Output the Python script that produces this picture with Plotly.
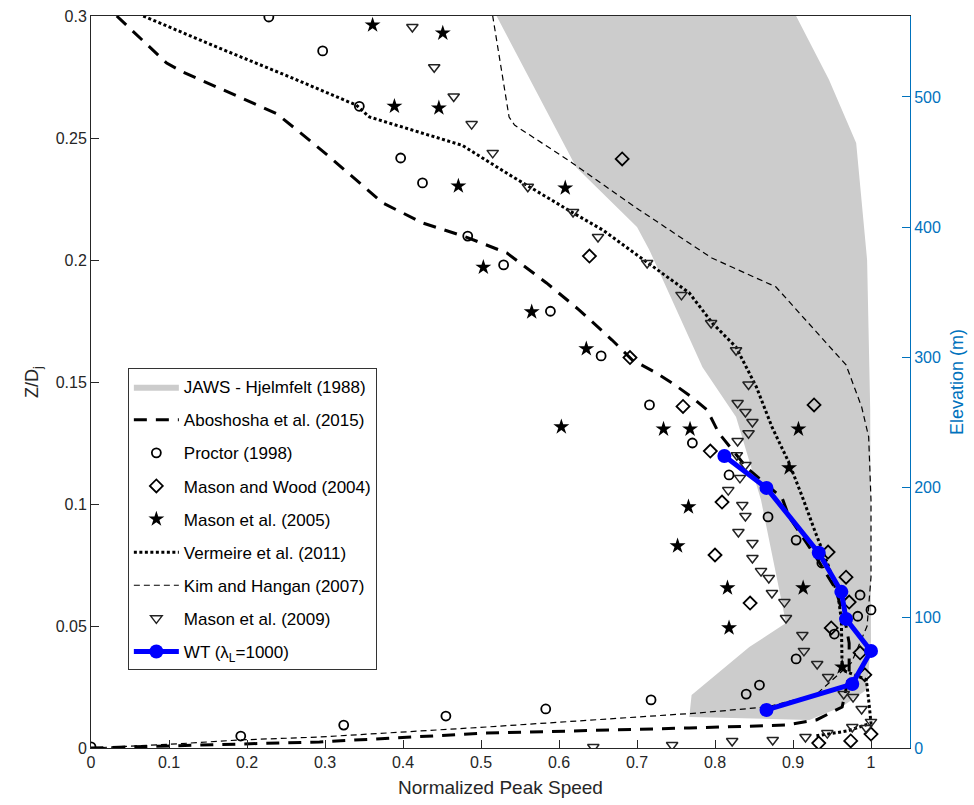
import plotly.graph_objects as go

# ---------------- data ----------------
jaws_x = [0.520, 0.622, 0.700, 0.716, 0.784, 0.827, 0.859, 0.882, 0.891, 0.844, 0.770, 0.767,
          0.921, 0.963, 0.995, 1.000, 0.999, 0.995, 0.981, 0.946, 0.904]
jaws_y = [0.300, 0.238, 0.2135, 0.204, 0.156, 0.1357, 0.1016, 0.0648, 0.0512, 0.0414, 0.0217, 0.0127,
          0.0115, 0.017, 0.024, 0.044, 0.1385, 0.200, 0.248, 0.274, 0.300]

abo_x = [0.033, 0.097, 0.118, 0.238, 0.264, 0.306, 0.374, 0.425, 0.481, 0.533, 0.584, 0.626, 0.668,
         0.694, 0.725, 0.745, 0.770, 0.790, 0.805, 0.841, 0.886, 0.895, 0.930, 0.955, 0.968, 0.972,
         0.972, 0.963, 0.930, 0.891, 0.767, 0.507, 0.293, 0.040, 0.0]
abo_y = [0.300, 0.2807, 0.277, 0.260, 0.2533, 0.2422, 0.2234, 0.2152, 0.2094, 0.2029, 0.1906, 0.1795, 0.1672,
         0.159, 0.1537, 0.1496, 0.1439, 0.1385, 0.129, 0.1148, 0.1025, 0.0947, 0.078, 0.065, 0.050, 0.043,
         0.030, 0.0168, 0.0115, 0.0094, 0.0082, 0.0061, 0.0025, 0.0002, 0.0]

proctor_x = [0.0, 0.192, 0.324, 0.455, 0.583, 0.718, 0.840, 0.857, 0.904, 0.953, 0.983, 1.0, 0.986, 0.937,
             0.904, 0.868, 0.818, 0.771, 0.716, 0.654, 0.589, 0.529, 0.483, 0.425, 0.397, 0.344, 0.297, 0.228]
proctor_y = [0.0005, 0.0049, 0.0094, 0.0131, 0.016, 0.0197, 0.0221, 0.0258, 0.0365, 0.0467, 0.054, 0.0566,
             0.0627, 0.0758, 0.0852, 0.0947, 0.1119, 0.125, 0.1406, 0.1607, 0.179, 0.198, 0.2098, 0.2316,
             0.2418, 0.263, 0.2857, 0.2996]

mw_x = [0.681, 0.639, 0.691, 0.759, 0.927, 0.794, 0.809, 0.800, 0.845, 0.945, 0.968, 0.972, 0.949, 0.986,
        0.992, 1.0, 0.974, 0.933]
mw_y = [0.2414, 0.2016, 0.160, 0.140, 0.1406, 0.1217, 0.1008, 0.0791, 0.0594, 0.0803, 0.070, 0.0598, 0.0492,
        0.039, 0.030, 0.0057, 0.0029, 0.002]

m05_x = [0.361, 0.451, 0.389, 0.446, 0.471, 0.608, 0.503, 0.565, 0.635, 0.603, 0.734, 0.768, 0.907, 0.895,
         0.766, 0.752, 0.816, 0.913, 0.818, 0.963]
m05_y = [0.2963, 0.293, 0.263, 0.2623, 0.2303, 0.2295, 0.197, 0.1787, 0.1636, 0.1316, 0.1307, 0.1307, 0.1307,
         0.1148, 0.0988, 0.0828, 0.0656, 0.0656, 0.0492, 0.0332]

verm_x = [0.067, 0.161, 0.255, 0.340, 0.357, 0.476, 0.536, 0.560, 0.618, 0.656, 0.713, 0.767, 0.797, 0.827,
          0.853, 0.873, 0.895, 0.912, 0.929, 0.945, 0.958, 0.962, 0.963, 0.994, 0.997, 1.0, 0.970, 0.930]
verm_y = [0.300, 0.2873, 0.275, 0.2635, 0.2586, 0.247, 0.235, 0.2303, 0.2193, 0.2123, 0.199, 0.1865, 0.174,
          0.1643, 0.148, 0.1316, 0.1168, 0.1029, 0.0881, 0.075, 0.062, 0.0525, 0.032, 0.028, 0.0197, 0.0102,
          0.007, 0.005]

kim_x = [0.0, 0.100, 0.191, 0.293, 0.507, 0.776, 0.866, 0.930, 0.975, 0.995, 1.0, 1.0, 0.997, 0.988, 0.968,
         0.878, 0.796, 0.703, 0.617, 0.543, 0.536, 0.520, 0.515]
kim_y = [0.0, 0.0015, 0.0033, 0.0045, 0.0086, 0.0143, 0.0168, 0.022, 0.035, 0.050, 0.070, 0.1016, 0.1275,
         0.1398, 0.157, 0.189, 0.2008, 0.2205, 0.2398, 0.2553, 0.2586, 0.289, 0.300]

m09_x = [0.412, 0.440, 0.465, 0.488, 0.515, 0.560, 0.618, 0.650, 0.713, 0.757, 0.795, 0.827, 0.843, 0.829,
         0.839, 0.848, 0.843, 0.829, 0.828, 0.839, 0.832, 0.817, 0.835, 0.839, 0.830, 0.848, 0.848, 0.859,
         0.869, 0.873, 0.889, 0.891, 0.912, 0.914, 0.931, 0.945, 0.965, 0.977, 0.988, 1.0, 0.976, 0.994,
         0.944, 0.916, 0.874, 0.822, 0.745, 0.644]
m09_y = [0.2955, 0.279, 0.267, 0.2557, 0.2439, 0.230, 0.2197, 0.2094, 0.1988, 0.1857, 0.1742, 0.163, 0.149,
         0.1414, 0.1377, 0.1336, 0.129, 0.1258, 0.120, 0.116, 0.1107, 0.1057, 0.0996, 0.0951, 0.0885, 0.084,
         0.0779, 0.0725, 0.0697, 0.0635, 0.0598, 0.0533, 0.0463, 0.0398, 0.0344, 0.0291, 0.0221, 0.0209,
         0.016, 0.0107, 0.0086, 0.0082, 0.0061, 0.0045, 0.0033, 0.0029, 0.0012, 0.0004]

wt_x = [0.812, 0.866, 0.933, 0.962, 0.968, 1.0, 0.976, 0.866]
wt_y = [0.1197, 0.1066, 0.080, 0.064, 0.0529, 0.0398, 0.0262, 0.0156]

x_ticks = [0, 0.1, 0.2, 0.3, 0.4, 0.5, 0.6, 0.7, 0.8, 0.9, 1]
y_ticks = [0, 0.05, 0.1, 0.15, 0.2, 0.25, 0.3]
elev_ticks = [0, 100, 200, 300, 400, 500]

# ---------------- figure ----------------
FONT = "Liberation Sans, Arial, sans-serif"
fig = go.Figure()

def lg(i):
    return dict(legendgroup=f"g{i}", legendrank=i)

fig.add_trace(go.Scatter(x=jaws_x, y=jaws_y, fill="toself", fillcolor="#CCCCCC", mode="lines",
                         line=dict(width=0, color="#CCCCCC"), name="JAWS - Hjelmfelt (1988)", **lg(1)))
fig.add_trace(go.Scatter(x=abo_x, y=abo_y, mode="lines", line=dict(color="black", width=3, dash="13px,9px"),
                         name="Aboshosha et al. (2015)", **lg(2)))
fig.add_trace(go.Scatter(x=proctor_x, y=proctor_y, mode="markers",
                         marker=dict(symbol="circle-open", size=9, color="black", line=dict(width=1.8)),
                         name="Proctor (1998)", **lg(3)))
fig.add_trace(go.Scatter(x=mw_x, y=mw_y, mode="markers",
                         marker=dict(symbol="diamond-open", size=10, color="black", line=dict(width=1.8)),
                         name="Mason and Wood (2004)", **lg(4)))
fig.add_trace(go.Scatter(x=m05_x, y=m05_y, mode="markers",
                         marker=dict(symbol="star", size=12, color="black", line=dict(width=0)),
                         name="Mason et al. (2005)", **lg(5)))
fig.add_trace(go.Scatter(x=verm_x, y=verm_y, mode="lines", line=dict(color="black", width=3, dash="3px,2.5px"),
                         name="Vermeire et al. (2011)", **lg(6)))
fig.add_trace(go.Scatter(x=kim_x, y=kim_y, mode="lines", line=dict(color="black", width=1.2, dash="6px,4px"),
                         name="Kim and Hangan (2007)", **lg(7)))
fig.add_trace(go.Scatter(x=m09_x, y=m09_y, mode="markers",
                         marker=dict(symbol="triangle-down-open", size=10, color="#222222", line=dict(width=1.5)),
                         name="Mason et al. (2009)", **lg(8)))
fig.add_trace(go.Scatter(x=wt_x, y=wt_y, mode="lines+markers", line=dict(color="#0000FF", width=5),
                         marker=dict(symbol="circle", size=14, color="#0000FF"),
                         name="WT (λ<sub>L</sub>=1000)", **lg(9)))
# carrier trace for right axis
fig.add_trace(go.Scatter(x=[0], y=[0], yaxis="y2", mode="markers", marker=dict(opacity=0),
                         showlegend=False, hoverinfo="skip"))

fig.update_layout(
    width=974, height=805,
    margin=dict(l=91, r=64, t=16, b=57),
    paper_bgcolor="white", plot_bgcolor="white",
    font=dict(family=FONT, size=16, color="#262626"),
    showlegend=True,
    legend=dict(x=0.045, y=0.519, xanchor="left", yanchor="top",
                bgcolor="white", bordercolor="#333333", borderwidth=1,
                font=dict(family=FONT, size=17, color="black"),
                tracegroupgap=8, itemwidth=45, traceorder="grouped"),
    xaxis=dict(range=[0, 1.05], tickvals=x_ticks, ticks="inside", ticklen=8, tickcolor="#262626",
               showline=True, linecolor="#262626", linewidth=1, mirror=True, showgrid=False, zeroline=False,
               automargin=False,
               title=dict(text="Normalized Peak Speed", font=dict(size=19), standoff=10),
               tickfont=dict(size=16)),
    yaxis=dict(range=[0, 0.3], tickvals=y_ticks, ticks="inside", ticklen=8, tickcolor="#262626",
               showline=True, linecolor="#262626", linewidth=1, showgrid=False, zeroline=False,
               automargin=False,
               title=dict(text="Z/D<sub>j</sub>", font=dict(size=18), standoff=12),
               tickfont=dict(size=16)),
    yaxis2=dict(range=[0, 562.2], tickvals=elev_ticks, overlaying="y", side="right", anchor="x",
                ticks="inside", ticklen=8, tickcolor="#0072BD", showline=True, linecolor="#0072BD",
                linewidth=1, showgrid=False, zeroline=False, automargin=False,
                tickfont=dict(size=16, color="#0072BD"),
                title=dict(text="Elevation (m)", font=dict(size=18, color="#0072BD"), standoff=10)),
)

fig.write_html("out.html", config={"displayModeBar": False},
               post_script="document.body.style.margin='0';document.body.style.overflow='hidden';")
